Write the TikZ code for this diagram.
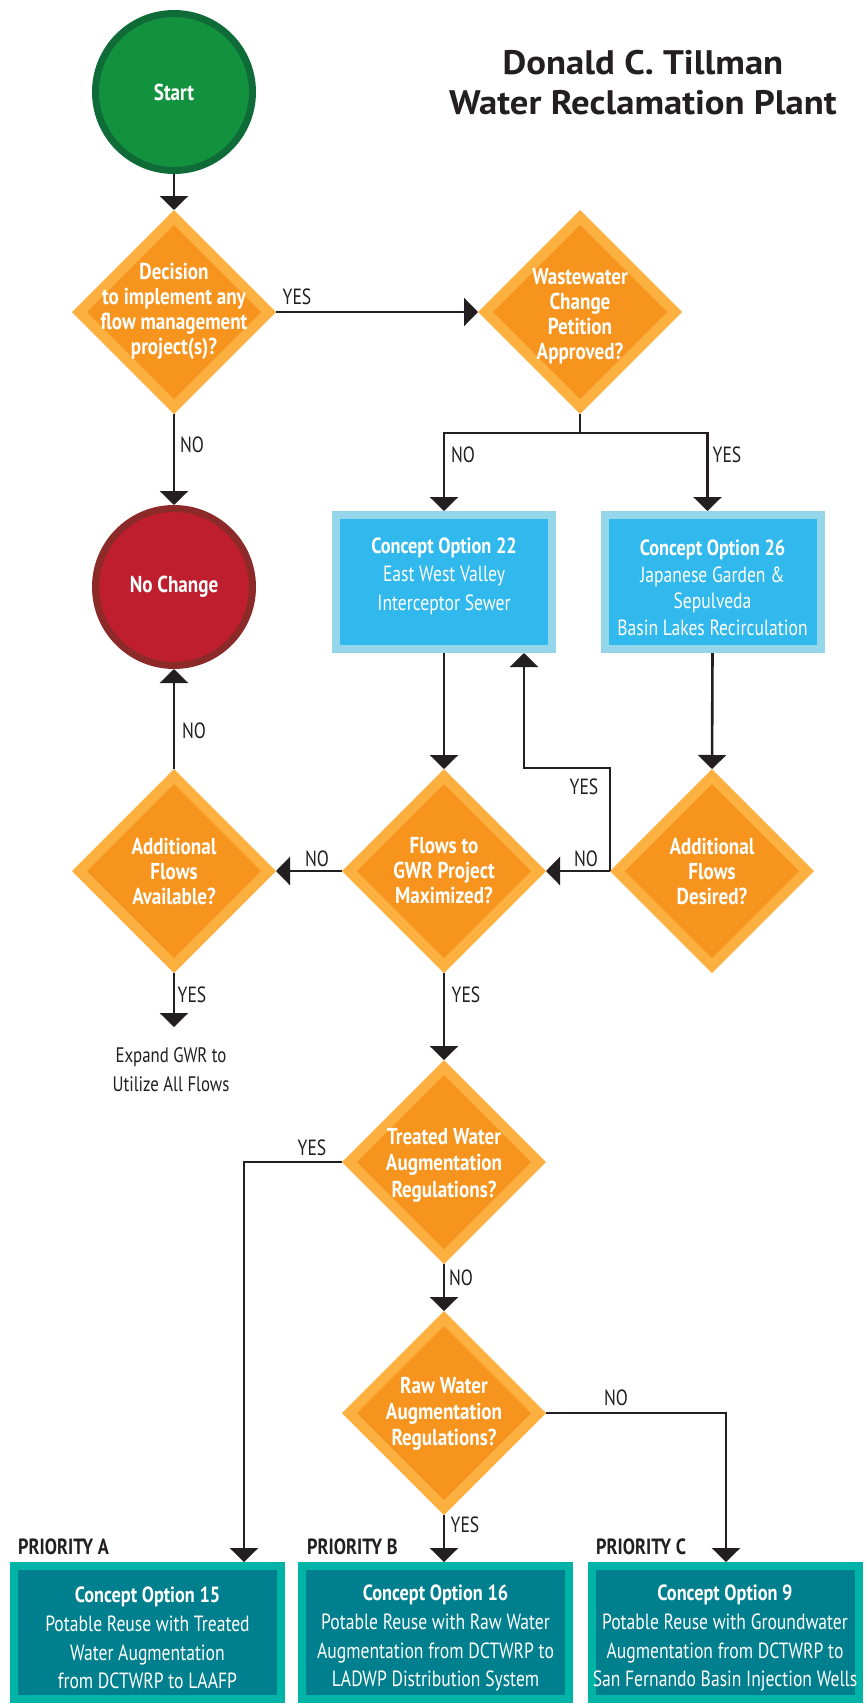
\documentclass[tikz,border=0pt]{standalone}
\usepackage{fontspec}
\setmainfont{PT Sans}[FakeStretch=0.8]
\newfontfamily\bcond{PT Sans}[FakeStretch=0.83]
\newfontfamily\titlefont{PT Sans}[FakeStretch=1.08]
\usetikzlibrary{shapes.geometric,arrows.meta}
\definecolor{ink}{HTML}{231F20}
\definecolor{orgout}{HTML}{FBB040}
\definecolor{orgin}{HTML}{F7941D}
\definecolor{startfill}{HTML}{12923F}
\definecolor{startring}{HTML}{0F6B37}
\definecolor{redfill}{HTML}{BE1E2D}
\definecolor{redring}{HTML}{8C2A2A}
\definecolor{bluefill}{HTML}{31B9ED}
\definecolor{blueedge}{HTML}{95D6EA}
\definecolor{tealfill}{HTML}{00808E}
\definecolor{tealedge}{HTML}{00B3A7}
\newcommand{\hd}[1]{{\bcond\bfseries\rule{0pt}{27pt}#1}}
\newcommand{\hdplain}[1]{{\bcond\bfseries #1}}
\begin{document}
\begin{tikzpicture}[x=1pt,y=-1pt,
  ln/.style={draw=ink, line width=2.6pt},
  arr/.style={ln, -{Triangle[width=28pt,length=14pt]}},
  lbl/.style={text=ink, font=\fontsize{22}{25}\selectfont, inner sep=0pt},
  dmd/.style={diamond, minimum width=204pt, minimum height=204pt, inner sep=0pt, outer sep=0pt, fill=orgout,
    path picture={\fill[orgin] ([yshift=-15pt]path picture bounding box.north) -- ([xshift=-15pt]path picture bounding box.east) -- ([yshift=15pt]path picture bounding box.south) -- ([xshift=15pt]path picture bounding box.west) -- cycle;}},
  dtxt/.style={text=white, font=\bcond\bfseries\fontsize{23}{25}\selectfont, align=center, inner sep=0pt},
  endc/.style={circle, line width=7pt, minimum size=157pt, inner sep=0pt, text=white, font=\bcond\bfseries\fontsize{23}{26}\selectfont},
  bbox/.style={rectangle, fill=bluefill, draw=blueedge, line width=8pt, minimum width=216pt, minimum height=134pt, inner sep=0pt, text=white, align=center, font=\fontsize{22}{28.5}\selectfont},
  tbox/.style={rectangle, fill=tealfill, draw=tealedge, line width=8pt, minimum width=267pt, minimum height=133pt, inner sep=0pt, text=white, align=center, font=\fontsize{22}{28.7}\selectfont},
  prio/.style={text=ink, font=\bcond\bfseries\fontsize{22}{25}\selectfont, inner sep=0pt, anchor=west}
]
\fill[white] (0,0) rectangle (867,1708);
\useasboundingbox (0,0) rectangle (867,1708);

% title
\node[text=ink, font=\titlefont\bfseries\fontsize{34}{40}\selectfont, align=center, inner sep=0pt] (title) at (643,83) {Donald C. Tillman\\Water Reclamation Plant};

% terminals
\node[endc, fill=startfill, draw=startring] (start) at (174,92) {Start};
\node[endc, fill=redfill, draw=redring] (nochange) at (174,587) {No Change};

% decisions
\node[dmd] (d1) at (174,312) {};
\node[dtxt] at (174,311) {Decision\\to implement any\\flow management\\project(s)?};
\node[dmd] (d2) at (580,312) {};
\node[dtxt] at (580,316) {Wastewater\\Change\\Petition\\Approved?};
\node[dmd] (davail) at (174,871) {};
\node[dtxt] at (174,871) {Additional\\Flows\\Available?};
\node[dmd] (dflows) at (444,871) {};
\node[dtxt] at (444,871) {Flows to\\GWR Project\\Maximized?};
\node[dmd] (ddes) at (712,871) {};
\node[dtxt] at (712,871) {Additional\\Flows\\Desired?};
\node[dmd] (dtreat) at (444,1162) {};
\node[dtxt, font=\bcond\bfseries\fontsize{23}{26.5}\selectfont] at (444,1165) {Treated Water\\Augmentation\\Regulations?};
\node[dmd] (draw) at (444,1413) {};
\node[dtxt, font=\bcond\bfseries\fontsize{23}{26}\selectfont] at (444,1414) {Raw Water\\Augmentation\\Regulations?};

% blue boxes
\node[bbox] (b22) at (444,582) {\hdplain{Concept Option 22}\\East West Valley\\Interceptor Sewer\rule[-16pt]{0pt}{16pt}};
\node[bbox, font=\fontsize{22}{26.7}\selectfont] (b26) at (712.5,582) {\hd{Concept Option 26}\\Japanese Garden \&\\Sepulveda\\Basin Lakes Recirculation};

% teal boxes
\node[tbox] (bA) at (147.5,1632.5) {\hd{Concept Option 15}\\Potable Reuse with Treated\\Water Augmentation\\from DCTWRP to LAAFP};
\node[tbox] (bB) at (435.5,1632.5) {\hd{Concept Option 16}\\Potable Reuse with Raw Water\\Augmentation from DCTWRP to\\LADWP Distribution System};
\node[tbox] (bC) at (725,1632.5) {\hd{Concept Option 9}\\Potable Reuse with Groundwater\\Augmentation from DCTWRP to\\San Fernando Basin Injection Wells};

\node[prio] (pA) at (18,1547) {PRIORITY A};
\node[prio] (pB) at (307,1547) {PRIORITY B};
\node[prio] (pC) at (596,1547) {PRIORITY C};

\node[lbl, align=center, font=\fontsize{21}{29}\selectfont] (expand) at (171,1070) {Expand GWR to\\Utilize All Flows};

% connectors
\draw[arr] (start.south) -- (d1.north);
\draw[arr] (d1.east) -- (d2.west);
\draw[arr] (d1.south) -- (nochange.north);
\draw[arr] (d2.south) -- ++(0,19) -| (b22.north);
\draw[arr] (d2.south) -- ++(0,19) -| ([xshift=-5pt]b26.north);
\draw[arr] (b22.south) -- (dflows.north);
\draw[arr] (b26.south) -- (ddes.north);
\draw[arr] (ddes.west) -- (dflows.east);
\draw[arr] (ddes.west) -- ++(0,-103) -| ([xshift=80pt]b22.south);
\draw[arr] (dflows.west) -- (davail.east);
\draw[arr] (davail.north) -- (nochange.south);
\draw[arr] (davail.south) -- ++(0,54);
\draw[arr] (dflows.south) -- (dtreat.north);
\draw[arr] (dtreat.south) -- (draw.north);
\draw[arr] (dtreat.west) -| ([xshift=96.5pt]bA.north);
\draw[arr] (draw.south) -- (draw.south |- bB.north);
\draw[arr] (draw.east) -| ([xshift=1pt]bC.north);

% labels
\node[lbl] at (297,297) {YES};
\node[lbl] at (192,445) {NO};
\node[lbl] at (463,455) {NO};
\node[lbl] at (727,455) {YES};
\node[lbl] at (194,731) {NO};
\node[lbl] at (317,859) {NO};
\node[lbl] at (586,859) {NO};
\node[lbl] at (584,787) {YES};
\node[lbl] at (192,995) {YES};
\node[lbl] at (466,995) {YES};
\node[lbl] at (312,1148) {YES};
\node[lbl] at (461,1278) {NO};
\node[lbl] at (616,1398) {NO};
\node[lbl] at (465,1525) {YES};
\end{tikzpicture}
\end{document}
